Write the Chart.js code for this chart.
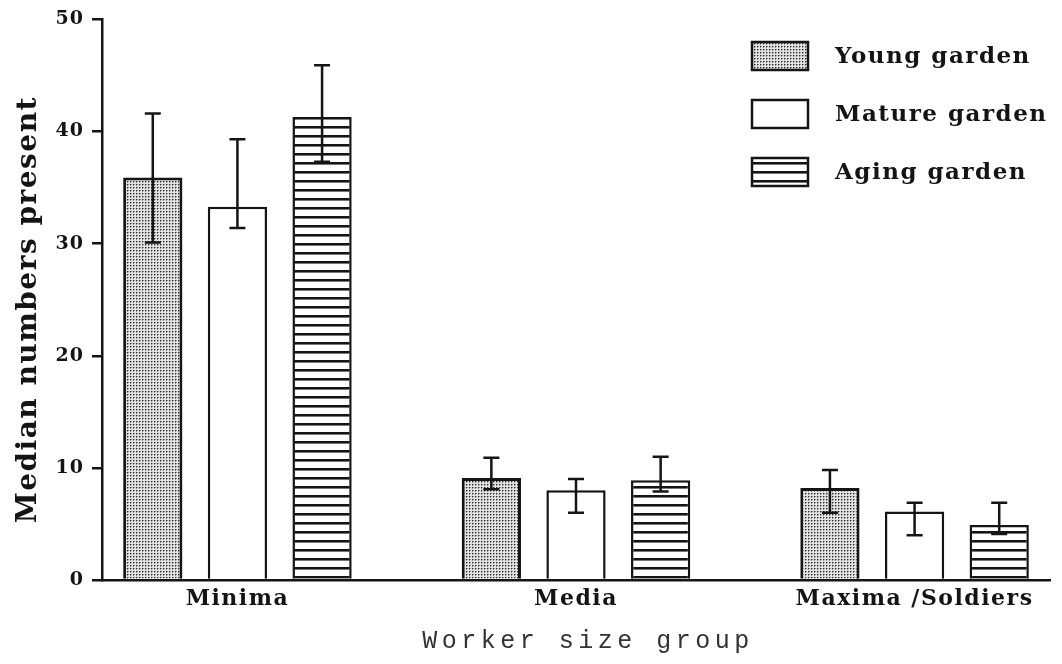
<!DOCTYPE html>
<html>
<head>
<meta charset="utf-8">
<script src="https://cdn.jsdelivr.net/npm/chart.js@4.4.1/dist/chart.umd.min.js"></script>
<style>
  html, body { margin: 0; padding: 0; background: #fff; }
  #wrap { width: 1062px; height: 664px; }
</style>
</head>
<body>
<div id="wrap"><canvas id="c" width="1062" height="664"></canvas></div>
<script>
// Worker size groups on the x axis
const categories = ['Minima', 'Media', 'Maxima /Soldiers'];
const seriesNames = ['Young garden', 'Mature garden', 'Aging garden'];

// Median counts per garden age, with lower / upper error limits
const youngMedian = [35.9, 9.1, 8.2];
const youngLow    = [30.1, 8.1, 6.0];
const youngHigh   = [41.6, 10.9, 9.8];

const matureMedian = [33.3, 8.0, 6.1];
const matureLow    = [31.4, 6.0, 4.0];
const matureHigh   = [39.3, 9.0, 6.9];

const agingMedian = [41.3, 8.9, 4.9];
const agingLow    = [37.3, 7.9, 4.1];
const agingHigh   = [45.9, 11.0, 6.9];

const yTicks = [0, 10, 20, 30, 40, 50];

const INK = '#141414';
const SERIF = '"DejaVu Serif", "Liberation Serif", serif';

// Fill patterns: stipple for young, plain white for mature, stripes for aging
function stipple() {
  const c = document.createElement('canvas');
  c.width = 3; c.height = 3;
  const g = c.getContext('2d');
  g.fillStyle = '#e2e2e2';
  g.fillRect(0, 0, 3, 3);
  g.fillStyle = '#8c8c8c';
  g.fillRect(2, 1, 1, 1);
  g.fillRect(1, 2, 1, 1);
  g.fillStyle = '#2e2e2e';
  g.fillRect(1, 1, 1, 1);
  return g.createPattern(c, 'repeat');
}
function stripes() {
  const c = document.createElement('canvas');
  c.width = 8; c.height = 9;
  const g = c.getContext('2d');
  g.fillStyle = '#ffffff';
  g.fillRect(0, 0, 8, 9);
  g.fillStyle = INK;
  g.fillRect(0, 0, 8, 2);
  g.fillStyle = '#777777';
  g.fillRect(0, 2, 8, 1);
  return g.createPattern(c, 'repeat');
}

const fills = [stipple(), '#ffffff', stripes()];
const medians = [youngMedian, matureMedian, agingMedian];
const lows = [youngLow, matureLow, agingLow];
const highs = [youngHigh, matureHigh, agingHigh];

const datasets = seriesNames.map((name, d) => ({
  label: name,
  data: medians[d].map((v, i) => ({ x: i, y: v })),
  backgroundColor: fills[d],
  borderColor: INK,
  borderWidth: d === 0 ? 3 : 2.5,
  borderSkipped: 'bottom',
  categoryPercentage: 0.75,
  barPercentage: 0.7
}));

// Vertical error bars with caps, drawn over the bars
const errorBars = {
  id: 'errorBars',
  afterDatasetsDraw(chart) {
    const ctx = chart.ctx;
    const y = chart.scales.y;
    ctx.save();
    ctx.strokeStyle = INK;
    ctx.lineWidth = 2.5;
    ctx.lineCap = 'butt';
    chart.data.datasets.forEach((ds, d) => {
      const meta = chart.getDatasetMeta(d);
      meta.data.forEach((bar, i) => {
        const x = bar.x;
        const yh = y.getPixelForValue(highs[d][i]);
        const yl = y.getPixelForValue(lows[d][i]);
        const cap = 8;
        ctx.beginPath();
        ctx.moveTo(x, yh); ctx.lineTo(x, yl);
        ctx.moveTo(x - cap, yh); ctx.lineTo(x + cap, yh);
        ctx.moveTo(x - cap, yl); ctx.lineTo(x + cap, yl);
        ctx.stroke();
      });
    });
    ctx.restore();
  }
};

// Key in the upper right corner
const keyBox = {
  id: 'keyBox',
  afterDraw(chart) {
    const ctx = chart.ctx;
    const left = 752, w = 56, h = 28, tops = [42, 100, 158];
    ctx.save();
    ctx.font = 'bold 23px ' + SERIF;
    ctx.letterSpacing = '1.5px';
    ctx.textBaseline = 'middle';
    ctx.textAlign = 'left';
    chart.data.datasets.forEach((ds, d) => {
      const t = tops[d];
      ctx.fillStyle = ds.backgroundColor;
      ctx.fillRect(left, t, w, h);
      ctx.strokeStyle = INK;
      ctx.lineWidth = 2.5;
      ctx.strokeRect(left, t, w, h);
      ctx.fillStyle = INK;
      ctx.fillText(ds.label, 835, t + h / 2 + 1);
    });
    ctx.restore();
  }
};

// Letter tracking (and small nudges) for axis labels and titles
function wrapDraw(scale, name, spacing, dx, dy) {
  const orig = scale[name];
  scale[name] = function (...args) {
    const ctx = this.ctx;
    ctx.save();
    ctx.letterSpacing = spacing;
    ctx.translate(dx, dy);
    orig.apply(this, args);
    ctx.restore();
  };
}
const tracking = {
  id: 'tracking',
  afterLayout(chart) {
    const { x, y } = chart.scales;
    if (x._tracked) return;
    wrapDraw(x, 'drawTitle', '4.5px', 12, 0);
    wrapDraw(x, 'drawLabels', '1.5px', 0, 0);
    wrapDraw(y, 'drawTitle', '1.5px', 2, 10);
    wrapDraw(y, 'drawLabels', '1px', 0, 0);
    x._tracked = true;
  }
};

new Chart(document.getElementById('c'), {
  type: 'bar',
  data: { datasets },
  plugins: [errorBars, keyBox, tracking],
  options: {
    responsive: false,
    animation: false,
    devicePixelRatio: 1,
    layout: { padding: { top: 18, right: 12, left: 0, bottom: 0 } },
    plugins: {
      legend: { display: false },
      tooltip: { enabled: false }
    },
    scales: {
      x: {
        type: 'linear',
        min: -0.4,
        max: 2.4,
        offset: false,
        afterBuildTicks(scale) {
          scale.ticks = categories.map((_, i) => ({ value: i }));
        },
        afterFit(scale) { scale.height = 84; },
        grid: { display: false, drawTicks: false },
        border: { display: true, color: INK, width: 2.5 },
        ticks: {
          autoSkip: false,
          maxRotation: 0,
          padding: 6,
          color: INK,
          font: { family: SERIF, weight: 'bold', size: 22 },
          callback: (v) => categories[v] ?? ''
        },
        title: {
          display: true,
          text: 'Worker size group',
          color: '#333',
          font: { family: '"Liberation Mono", "DejaVu Sans Mono", monospace', size: 25 },
          padding: { top: 0, bottom: 8 }
        }
      },
      y: {
        min: 0,
        max: 50,
        afterBuildTicks(scale) {
          scale.ticks = yTicks.map(v => ({ value: v }));
        },
        afterFit(scale) { scale.width = 102; },
        grid: {
          display: true,
          drawOnChartArea: false,
          drawTicks: true,
          tickLength: 10,
          color: INK,
          lineWidth: 2.5
        },
        border: { display: true, color: INK, width: 2.5 },
        ticks: {
          padding: 8,
          color: INK,
          font: { family: SERIF, weight: 'bold', size: 19 }
        },
        title: {
          display: true,
          text: 'Median numbers present',
          color: INK,
          font: { family: SERIF, weight: 'bold', size: 28 },
          padding: { top: 10, bottom: 0 }
        }
      }
    }
  }
});
</script>
</body>
</html>
